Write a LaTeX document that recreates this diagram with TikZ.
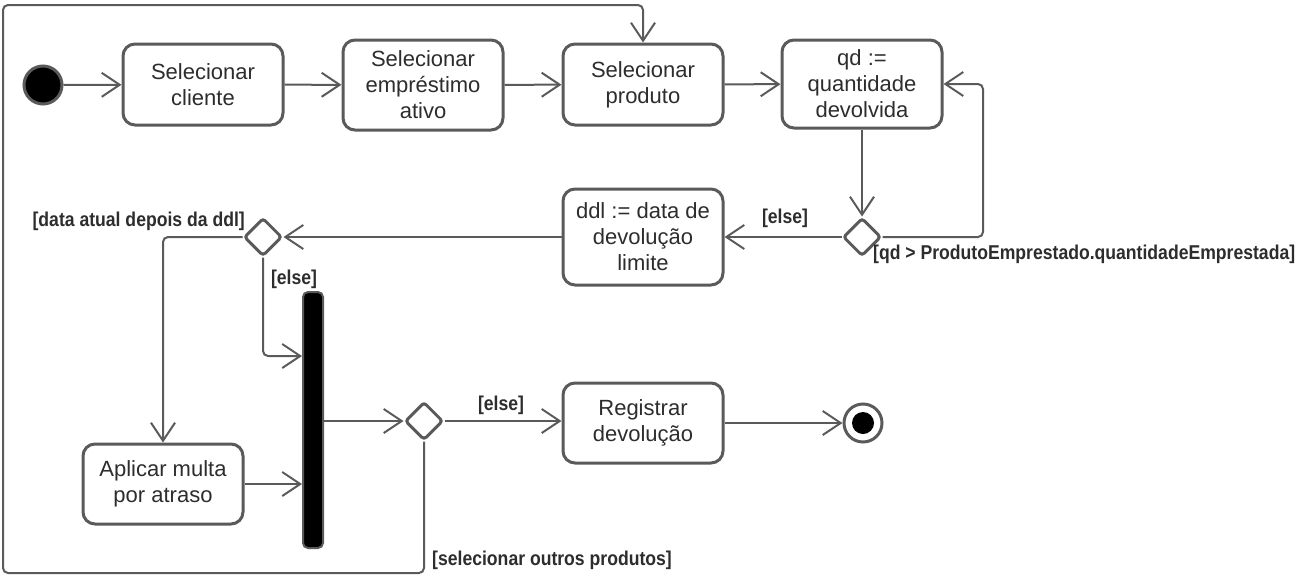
\documentclass[tikz,border=0pt]{standalone}
\usepackage{fontspec}
\setmainfont{Liberation Sans}
\newfontfamily\lblfamily[FakeStretch=0.88]{Liberation Sans}
\usetikzlibrary{arrows.meta,shapes.geometric,calc}
\definecolor{lc}{RGB}{90,90,90}
\definecolor{tc}{RGB}{45,45,45}
\tikzset{
  act/.style={draw=lc, line width=3pt, rounded corners=12pt, fill=white,
    minimum width=160pt, align=center, text=tc, inner sep=2pt,
    font=\fontsize{22}{26}\selectfont},
  dec/.style={draw=lc, line width=3pt, diamond, minimum width=38pt,
    minimum height=38pt, inner sep=0pt, rounded corners=3pt, fill=white},
  flow/.style={draw=lc, line width=2pt, rounded corners=5pt,
    -{Straight Barb[length=18pt,width=24pt,line width=2pt]}},
  lbl/.style={font=\lblfamily\bfseries\fontsize{20}{22}\selectfont, text=tc, inner sep=0pt}
}
\begin{document}
\begin{tikzpicture}[x=1pt,y=-1pt]
\useasboundingbox (0,0) rectangle (1301,576);
% nodes
\node[circle, fill=black, draw=lc, line width=3pt, minimum size=38pt, inner sep=0pt] (start) at (43,85) {};
\node[act, minimum height=81pt] (b1) at (203,84.5) {Selecionar\\cliente};
\node[act, minimum height=90pt] (b2) at (423,85) {Selecionar\\empréstimo\\ativo};
\node[act, minimum height=81pt] (b3) at (643,84.5) {Selecionar\\produto};
\node[act, minimum height=88pt] (b4) at (862,84) {qd :=\\quantidade\\devolvida};
\node[dec] (d1) at (862,237) {};
\node[act, minimum height=96pt] (b5) at (643,237) {ddl := data de\\devolução\\limite};
\node[dec] (d2) at (263,237) {};
\node[draw=lc, fill=black, line width=2pt, rounded corners=5pt, minimum width=20pt, minimum height=256pt, inner sep=0pt] (bar) at (313,420) {};
\node[act, minimum height=80pt] (b6) at (163,484) {Aplicar multa\\por atraso};
\node[dec] (d3) at (424,421) {};
\node[act, minimum height=80pt] (b7) at (643,423) {Registrar\\devolução};
\node[circle, draw=lc, line width=3pt, minimum size=38pt, inner sep=0pt] (end) at (863,423) {};
\fill[black] (end.center) circle (11pt);
% helper coordinates
\coordinate (r1) at (983,84);
\coordinate (c1) at (3,573);
\coordinate (c2) at (3,5);
% connectors
\draw[flow] (start) -- (b1);
\draw[flow] (b1) -- (b2);
\draw[flow] (b2) -- (b3);
\draw[flow] (b3) -- (b4);
\draw[flow] (b4) -- (d1);
\draw[flow] (d1) -- (b5);
\draw[flow] (d1.east) -| (r1) -- (b4.east);
\draw[flow] (b5) -- (d2);
\draw[flow] (d2.west) -| (b6.north);
\draw[flow] (d2.south) |- ([yshift=64pt]bar.west);
\draw[flow] (b6.east) -- (bar.west |- b6.east);
\draw[flow] (bar.east |- d3.west) -- (d3.west);
\draw[flow] (d3.east) -- (b7.west |- d3.east);
\draw[flow] (b7) -- (end);
\draw[flow] (d3.south) |- (c1) -- (c2) -| (b3.north);
% labels
\node[lbl] (l1) at (785,218) {[else]};
\node[lbl, anchor=west] (l2) at (873,254) {[qd > ProdutoEmprestado.quantidadeEmprestada]};
\node[lbl, anchor=east] (l3) at (245,221) {[data atual depois da ddl]};
\node[lbl] (l4) at (294,279) {[else]};
\node[lbl] (l5) at (501,405) {[else]};
\node[lbl, anchor=west] (l6) at (432,560) {[selecionar outros produtos]};
\end{tikzpicture}
\end{document}
